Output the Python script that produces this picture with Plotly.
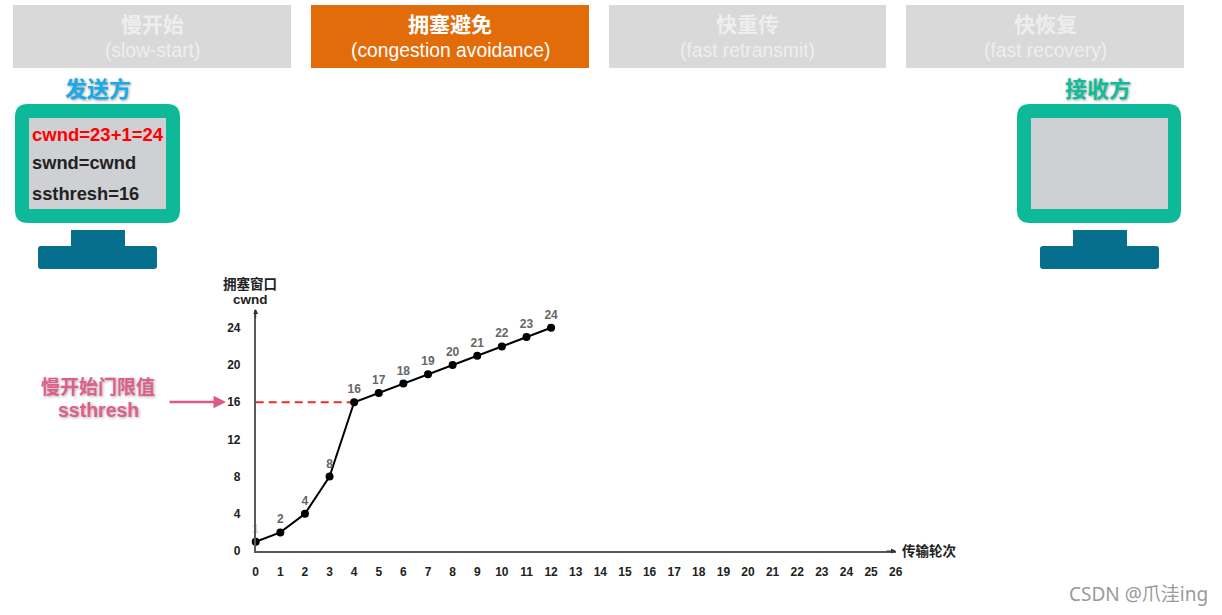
import plotly.graph_objects as go

rounds = [0, 1, 2, 3, 4, 5, 6, 7, 8, 9, 10, 11, 12]
cwnd = [1, 2, 4, 8, 16, 17, 18, 19, 20, 21, 22, 23, 24]
ssthresh_x = [0, 4]
ssthresh_y = [16, 16]
x_ticks = list(range(0, 27))
y_ticks = [0, 4, 8, 12, 16, 20, 24]
phases_cn = ["慢开始", "拥塞避免", "快重传", "快恢复"]
phases_en = ["(slow-start)", "(congestion avoidance)", "(fast retransmit)", "(fast recovery)"]

W, H = 1222, 615
SANS = "Liberation Sans, Arial, sans-serif"
CJK = "Noto Sans CJK SC, sans-serif"
TEAL, SCREEN, BASE = "#0DB998", "#CFD0D3", "#076F8E"

def X(v):
    return v / W

def Y(v):
    return 1 - v / H

fig = go.Figure()
fig.add_trace(go.Scatter(x=ssthresh_x, y=ssthresh_y, mode="lines", hoverinfo="skip",
                         line=dict(color="#F02B2B", width=2, dash="8px,5px"), cliponaxis=False))
fig.add_trace(go.Scatter(
    x=rounds, y=cwnd, mode="lines+markers+text",
    text=[str(v) for v in cwnd], textposition="top center",
    textfont=dict(family=SANS, size=12, weight="bold", color=["#CCCCCC"] + ["#666666"] * 12),
    line=dict(color="#000000", width=2), marker=dict(color="#000000", size=8),
    cliponaxis=False))

shapes = []
def rect(x0, y0, x1, y1, color, r=0):
    if r:
        pts = [("M", x0 + r, y0), ("L", x1 - r, y0), ("Q", x1, y0, x1, y0 + r), ("L", x1, y1 - r),
               ("Q", x1, y1, x1 - r, y1), ("L", x0 + r, y1), ("Q", x0, y1, x0, y1 - r),
               ("L", x0, y0 + r), ("Q", x0, y0, x0 + r, y0)]
        p = ""
        for s in pts:
            coords = s[1:]
            p += s[0] + " " + " ".join(
                f"{X(coords[i]):.6f} {Y(coords[i + 1]):.6f}" for i in range(0, len(coords), 2)) + " "
        shapes.append(dict(type="path", path=p + "Z", xref="paper", yref="paper",
                           fillcolor=color, line_width=0, layer="below"))
    else:
        shapes.append(dict(type="rect", x0=X(x0), y0=Y(y0), x1=X(x1), y1=Y(y1), xref="paper", yref="paper",
                           fillcolor=color, line_width=0, layer="below"))

annots = []
def label(x, y, text, size, color, family=SANS, bold=False, anchor="center", shadow=None):
    f = dict(family=family, size=size, color=color, weight="bold" if bold else "normal")
    if shadow:
        f["shadow"] = shadow
    annots.append(dict(x=X(x), y=Y(y), xref="paper", yref="paper", text=text, showarrow=False,
                       xanchor=anchor, yanchor="middle", font=f))

header_x = [(13, 291), (311, 589), (609, 886), (906, 1184)]
for i, (x0, x1) in enumerate(header_x):
    active = i == 1
    rect(x0, 5, x1, 68, "#E36C0A" if active else "#D9D9D9")
    tc = "#FFFFFF" if active else "#EEEEEE"
    label((x0 + x1) / 2, 23, phases_cn[i], 21, tc, CJK, True)
    label((x0 + x1) / 2, 50, phases_en[i], 19.3, tc, SANS)

for (ox, ow, ix, iw, nx, nw, bx, bw) in [(15, 165, 29, 137, 71, 54, 38, 119),
                                         (1017, 164, 1031, 137, 1073, 54, 1040, 119)]:
    rect(ox, 104, ox + ow, 223, TEAL, 13)
    rect(ix, 118, ix + iw, 209, SCREEN)
    rect(nx, 230, nx + nw, 248, BASE)
    rect(bx, 246, bx + bw, 269, BASE, 3)

label(98, 87, "发送方", 22, "#16ACEB", CJK, True, shadow="1px 1px 3px #999999")
label(1098, 87, "接收方", 22, "#0DBE9B", CJK, True, shadow="1px 1px 3px #999999")
label(29.5, 135, "cwnd=23+1=24", 18.5, "#FF0000", SANS, True, "left")
label(29.5, 163, "swnd=cwnd", 18.3, "#222222", SANS, True, "left")
label(29.5, 193, "ssthresh=16", 18.3, "#222222", SANS, True, "left")
label(98, 385, "慢开始门限值", 19, "#DE5F8B", CJK, True, shadow="1px 1px 3px #AAAAAA")
label(98, 410, "ssthresh", 19.5, "#DE5F8B", SANS, True, shadow="1px 1px 3px #AAAAAA")
label(250, 283, "拥塞窗口", 13.5, "#222222", CJK, True)
label(250, 299, "cwnd", 13.5, "#222222", SANS, True)
label(929, 550, "传输轮次", 13.5, "#222222", CJK, True)
label(1138, 594, "CSDN @爪洼ing", 19, "#9A9A9A", "Noto Sans, Noto Sans CJK SC, sans-serif")

def arrow(x0, y0, x1, y1, color, width, head):
    annots.append(dict(x=X(x1), y=Y(y1), ax=x0 - x1, ay=y0 - y1, xref="paper", yref="paper",
                       axref="pixel", ayref="pixel",
                       text="", showarrow=True, arrowhead=head, arrowsize=1, arrowwidth=width, arrowcolor=color))

arrow(168, 402, 226, 402, "#DB5A86", 2.5, 2)
arrow(885, 551, 896, 551, "#333333", 1, 2)
arrow(255.7, 320, 255.7, 309, "#333333", 1, 2)

L, R, T, B = 255.7, 895.7, 310, 551
fig.update_layout(
    width=W, height=H, autosize=False, showlegend=False,
    margin=dict(l=0, r=0, t=0, b=0, autoexpand=False), paper_bgcolor="#FFFFFF", plot_bgcolor="rgba(0,0,0,0)",
    shapes=shapes, annotations=annots,
    xaxis=dict(domain=[L / W, R / W], range=[0, 26], tickmode="array", tickvals=x_ticks, automargin=False,
               ticks="outside", ticklen=9, tickcolor="rgba(0,0,0,0)", showgrid=False, zeroline=False,
               showline=True, linecolor="#595959", linewidth=1.5, anchor="y",
               tickfont=dict(family=SANS, size=12, color="#222222", weight="bold")),
    yaxis=dict(domain=[(H - B) / H, (H - T) / H], range=[0, (B - T) / 9.3], tickmode="array", tickvals=y_ticks,
               automargin=False, ticks="outside", ticklen=11, tickcolor="rgba(0,0,0,0)", showgrid=False,
               zeroline=False, showline=True, linecolor="#595959", linewidth=1.5, anchor="x",
               tickfont=dict(family=SANS, size=12, color="#222222", weight="bold")),
)
fig.write_html("out.html", config=dict(displayModeBar=False),
               post_script="document.body.style.margin='0';document.body.style.overflow='hidden';")
